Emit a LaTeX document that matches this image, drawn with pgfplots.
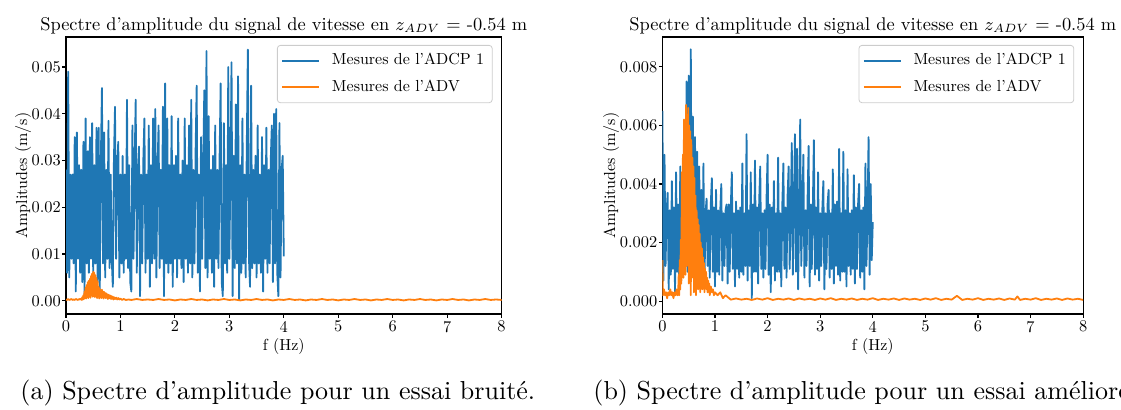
\documentclass[border=0pt]{standalone}
\usepackage{fontspec}
\setmainfont{lmroman10-regular.otf}[ItalicFont=lmroman10-italic.otf, BoldFont=lmroman10-bold.otf]
\usepackage{pgfplots}
\usepackage{pgfplotstable}
\pgfplotsset{compat=1.18}
\definecolor{tabblue}{RGB}{31,119,180}
\definecolor{taborange}{RGB}{255,127,14}

\pgfplotstableread{
x y
0.00 .028
0.02 .006
0.04 .049
0.06 .005
0.08 .027
0.10 .009
0.12 .027
0.14 .008
0.16 .035
0.18 .002
0.20 .036
0.22 .009
0.24 .029
0.26 .006
0.28 .028
0.30 .004
0.32 .034
0.34 .001
0.36 .039
0.38 .008
0.40 .032
0.42 .006
0.44 .035
0.46 .009
0.48 .038
0.50 .005
0.52 .029
0.54 .008
0.56 .037
0.58 .004
0.60 .037
0.62 .002
0.64 .030
0.66 .0455
0.68 .008
0.70 .036
0.72 .005
0.74 .028
0.76 .009
0.78 .0385
0.80 .007
0.82 .027
0.84 .009
0.86 .003
0.88 .030
0.90 .0415
0.92 .009
0.94 .029
0.96 .034
0.98 .005
1.00 .027
1.02 .008
1.04 .031
1.06 .006
1.08 .027
1.10 .009
1.12 .043
1.14 .007
1.16 .029
1.18 .004
1.20 .002
1.22 .0375
1.24 .009
1.26 .029
1.28 .043
1.30 .006
1.32 .028
1.34 .033
1.36 .001
1.38 .027
1.40 .008
1.42 .030
1.44 .039
1.46 .006
1.48 .027
1.50 .009
1.52 .0375
1.54 .003
1.56 .029
1.58 .008
1.60 .039
1.62 .009
1.64 .041
1.66 .005
1.68 .028
1.70 .0375
1.72 .007
1.74 .028
1.76 .009
1.78 .0415
1.80 .001
1.82 .0465
1.84 .008
1.86 .039
1.88 .006
1.90 .029
1.92 .008
1.94 .0395
1.96 .003
1.98 .029
2.00 .009
2.02 .031
2.04 .005
2.06 .039
2.08 .009
2.10 .027
2.12 .007
2.14 .030
2.16 .004
2.18 .039
2.20 .009
2.22 .029
2.24 .006
2.26 .0375
2.28 .008
2.30 .043
2.32 .005
2.34 .028
2.36 .008
2.38 .032
2.40 .046
2.42 .006
2.44 .027
2.46 .002
2.48 .035
2.50 .009
2.52 .029
2.54 .045
2.56 .007
2.58 .0534
2.60 .005
2.62 .0395
2.64 .009
2.66 .028
2.68 .006
2.70 .031
2.72 .003
2.74 .0375
2.76 .009
2.78 .028
2.80 .007
2.82 .030
2.84 .0465
2.86 .004
2.88 .001
2.90 .038
2.92 .008
2.94 .029
2.96 .006
2.98 .050
3.00 .009
3.02 .027
3.04 .051
3.06 .001
3.08 .031
3.10 .007
3.12 .042
3.14 .008
3.16 .048
3.18 .0002
3.20 .029
3.22 .006
3.24 .039
3.26 .008
3.28 .027
3.30 .005
3.32 .033
3.34 .0537
3.36 .009
3.38 .003
3.40 .046
3.42 .007
3.44 .028
3.46 .008
3.48 .031
3.50 .005
3.52 .0375
3.54 .008
3.56 .027
3.58 .006
3.60 .035
3.62 .002
3.64 .029
3.66 .009
3.68 .037
3.70 .006
3.72 .028
3.74 .008
3.76 .030
3.78 .0375
3.80 .004
3.82 .040
3.84 .008
3.86 .041
3.88 .006
3.90 .001
3.92 .038
3.94 .005
3.96 .028
3.98 .031
4.00 .0095
}\adcpA

\pgfplotstableread{
x y
0.00 .0003
0.02 .0002
0.04 .0004
0.06 .0002
0.08 .0003
0.10 .0004
0.12 .0002
0.14 .0003
0.16 .0002
0.18 .0004
0.20 .0003
0.22 .0002
0.24 .0004
0.26 .0003
0.28 .0005
0.29 .0002
0.30 .0008
0.31 .0003
0.32 .0012
0.33 .0004
0.34 .0020
0.35 .0006
0.36 .0028
0.37 .0005
0.38 .0034
0.39 .0008
0.40 .0040
0.41 .0006
0.42 .0043
0.43 .0010
0.44 .0047
0.45 .0007
0.46 .0053
0.47 .0012
0.48 .0058
0.49 .0009
0.50 .0062
0.51 .0014
0.52 .0060
0.53 .0008
0.54 .0055
0.55 .0011
0.56 .0049
0.57 .0006
0.58 .0042
0.59 .0009
0.60 .0030
0.61 .0005
0.62 .0026
0.63 .0008
0.64 .0022
0.65 .0006
0.66 .0024
0.67 .0009
0.68 .0020
0.69 .0005
0.70 .0019
0.71 .0008
0.72 .0017
0.73 .0006
0.74 .0016
0.75 .0007
0.76 .0014
0.77 .0004
0.78 .0013
0.79 .0006
0.80 .0012
0.81 .0005
0.82 .0011
0.83 .0004
0.84 .0010
0.85 .0005
0.86 .0009
0.87 .0003
0.88 .0008
0.90 .0004
0.92 .0007
0.94 .0003
0.96 .0006
0.98 .0003
1.00 .0005
1.03 .0002
1.06 .0004
1.10 .0002
1.15 .0003
1.2 .0002
1.3 .0004
1.4 .0002
1.5 .0003
1.6 .0002
1.7 .0004
1.8 .0002
1.9 .0003
2.0 .0001
2.1 .0003
2.2 .0002
2.3 .0004
2.4 .0002
2.5 .0003
2.6 .0001
2.7 .0003
2.8 .0002
2.9 .0004
3.0 .0002
3.1 .0003
3.2 .0001
3.3 .0003
3.4 .0002
3.5 .0004
3.6 .0002
3.7 .0003
3.8 .0001
3.9 .0003
4.0 .0002
4.1 .0004
4.2 .0002
4.3 .0003
4.4 .0001
4.5 .0003
4.6 .0002
4.7 .0004
4.8 .0002
4.9 .0003
5.0 .0001
5.1 .0003
5.2 .0002
5.3 .0004
5.4 .0002
5.5 .0003
5.6 .0001
5.7 .0003
5.8 .0002
5.9 .0004
6.0 .0002
6.1 .0003
6.2 .0001
6.3 .0003
6.4 .0002
6.5 .0004
6.6 .0002
6.7 .0003
6.8 .0001
6.9 .0003
7.0 .0002
7.1 .0004
7.2 .0002
7.3 .0003
7.4 .0001
7.5 .0003
7.6 .0002
7.7 .0004
7.8 .0002
7.9 .0003
8.0 .0002
}\advA

\pgfplotstableread{
x y
0.00 .0065
0.02 .0007
0.04 .0050
0.06 .0012
0.08 .0030
0.10 .0037
0.12 .0004
0.14 .0031
0.16 .0009
0.18 .0041
0.20 .0011
0.22 .0032
0.24 .0003
0.26 .0044
0.28 .0010
0.30 .0033
0.32 .0006
0.34 .0046
0.36 .0011
0.38 .0035
0.40 .0009
0.42 .0060
0.44 .0012
0.46 .0075
0.48 .0010
0.50 .0077
0.52 .0012
0.54 .0086
0.56 .0009
0.58 .0063
0.60 .0012
0.62 .0056
0.64 .0010
0.66 .0051
0.68 .0011
0.70 .0046
0.72 .0009
0.74 .0038
0.76 .0011
0.78 .0047
0.80 .0006
0.82 .0030
0.84 .0035
0.86 .0012
0.88 .0031
0.90 .0008
0.92 .0033
0.94 .0042
0.96 .0010
0.98 .0032
1.00 .0005
1.02 .0038
1.04 .0010
1.06 .0031
1.08 .0009
1.10 .0031
1.12 .0040
1.14 .0007
1.16 .0030
1.18 .0012
1.20 .0031
1.22 .0033
1.24 .0006
1.26 .0033
1.28 .0010
1.30 .0032
1.32 .0044
1.34 .0011
1.36 .0030
1.38 .0005
1.40 .0034
1.42 .0011
1.44 .0031
1.46 .0008
1.48 .0032
1.50 .0010
1.52 .0047
1.54 .0009
1.56 .0030
1.58 .0012
1.60 .0057
1.62 .0007
1.64 .0031
1.66 .0012
1.68 .0044
1.70 .0001
1.72 .0033
1.74 .0010
1.76 .0048
1.78 .0010
1.80 .0032
1.82 .0006
1.84 .0034
1.86 .0046
1.88 .0011
1.90 .0030
1.92 .0008
1.94 .0031
1.96 .0011
1.98 .0035
2.00 .0050
2.02 .0009
2.04 .0033
2.06 .0003
2.08 .0032
2.10 .0012
2.12 .0041
2.14 .0007
2.16 .0030
2.18 .0010
2.20 .0049
2.22 .0010
2.24 .0030
2.26 .0005
2.28 .0033
2.30 .0047
2.32 .0011
2.34 .0032
2.36 .0008
2.38 .0036
2.40 .0046
2.42 .0011
2.44 .0030
2.46 .0054
2.48 .0009
2.50 .0031
2.52 .0057
2.54 .0010
2.56 .0052
2.58 .0004
2.60 .0030
2.62 .0062
2.64 .0012
2.66 .0030
2.68 .0050
2.70 .0008
2.72 .0031
2.74 .0012
2.76 .0035
2.78 .0053
2.80 .0005
2.82 .0033
2.84 .0011
2.86 .0032
2.88 .0055
2.90 .0009
2.92 .0032
2.94 .0011
2.96 .0044
2.98 .0007
3.00 .0030
3.02 .0012
3.04 .0031
3.06 .0041
3.08 .0004
3.10 .0030
3.12 .0011
3.14 .0033
3.16 .0038
3.18 .0008
3.20 .0030
3.22 .0011
3.24 .0045
3.26 .0006
3.28 .0033
3.30 .0012
3.32 .0034
3.34 .0009
3.36 .0052
3.38 .0007
3.40 .0030
3.42 .0010
3.44 .0051
3.46 .0010
3.48 .0031
3.50 .0005
3.52 .0045
3.54 .0012
3.56 .0030
3.58 .0009
3.60 .0031
3.62 .0011
3.64 .0043
3.66 .0006
3.68 .0032
3.70 .0011
3.72 .0033
3.74 .0040
3.76 .0008
3.78 .0031
3.80 .0010
3.82 .0032
3.84 .0004
3.86 .0047
3.88 .0012
3.90 .0030
3.92 .0056
3.94 .0009
3.96 .0040
3.98 .0014
4.00 .0027
}\adcpB

\pgfplotstableread{
x y
0.00 .0014
0.01 .0002
0.03 .0004
0.05 .0002
0.07 .0003
0.09 .0001
0.11 .0003
0.13 .0002
0.15 .0004
0.17 .0002
0.19 .0003
0.21 .0001
0.23 .0003
0.25 .0002
0.27 .0004
0.29 .0002
0.30 .0003
0.31 .0009
0.32 .0002
0.33 .0014
0.34 .0004
0.35 .0021
0.36 .0006
0.37 .0044
0.38 .0010
0.39 .0050
0.40 .0008
0.41 .0062
0.42 .0015
0.43 .0058
0.44 .0009
0.45 .0067
0.46 .0012
0.47 .0063
0.48 .0020
0.49 .0066
0.50 .0006
0.51 .0060
0.52 .0011
0.53 .0058
0.54 .0002
0.55 .0055
0.56 .0014
0.57 .0049
0.58 .0008
0.59 .0046
0.60 .0003
0.61 .0042
0.62 .0010
0.63 .0036
0.64 .0002
0.65 .0031
0.66 .0007
0.67 .0028
0.68 .0004
0.69 .0026
0.70 .0009
0.71 .0023
0.72 .0003
0.73 .0020
0.74 .0006
0.75 .0018
0.76 .0004
0.77 .0015
0.78 .0007
0.79 .0013
0.80 .0003
0.81 .0011
0.82 .0005
0.83 .0010
0.84 .0004
0.85 .0008
0.86 .0003
0.87 .0007
0.88 .0004
0.89 .0006
0.90 .0002
0.92 .0005
0.94 .0003
0.96 .0004
0.98 .0002
1.00 .0003
1.05 .0002
1.10 .0003
1.15 .0001
1.20 .0002
1.3 .00005
1.4 .00009
1.5 .00005
1.6 .00008
1.7 .00004
1.8 .00009
1.9 .00005
2.0 .00010
2.1 .00004
2.2 .00008
2.3 .00005
2.4 .00009
2.5 .00004
2.6 .00009
2.7 .00005
2.8 .00008
2.9 .00004
3.0 .00009
3.1 .00005
3.2 .00010
3.3 .00004
3.4 .00008
3.5 .00005
3.6 .00009
3.7 .00004
3.8 .00008
3.9 .00005
4.0 .00010
4.1 .00004
4.2 .00008
4.3 .00005
4.4 .00009
4.5 .00004
4.6 .00009
4.7 .00005
4.8 .00008
4.9 .00004
5.0 .00009
5.1 .00005
5.2 .00010
5.3 .00004
5.4 .00008
5.5 .00005
5.6 .00018
5.7 .00004
5.8 .00008
5.9 .00005
6.0 .00010
6.1 .00004
6.2 .00008
6.3 .00005
6.4 .00009
6.5 .00004
6.6 .00009
6.7 .00005
6.75 .00016
6.8 .00004
6.9 .00008
7.0 .00005
7.1 .00010
7.2 .00004
7.3 .00008
7.4 .00005
7.5 .00009
7.6 .00004
7.7 .00009
7.8 .00005
7.9 .00008
8.0 .00004
}\advB

\pgfplotsset{
  myax/.style={
    scale only axis, anchor=south west,
    xmin=0, xmax=8, xtick={0,1,...,8},
    tick align=outside, xtick pos=bottom, ytick pos=left,
    major tick length=1.8pt,
    tick style={black, line width=0.6pt},
    axis line style={line width=0.6pt},
    /pgf/number format/assume math mode=true,
    ticklabel style={font=\fontsize{8.2}{9}\selectfont},
    yticklabel style={inner xsep=0.6pt},
    xticklabel style={inner ysep=1.5pt},
    label style={font=\fontsize{8}{9}\selectfont},
    title style={font=\fontsize{9.2}{11}\selectfont, yshift=-8pt},
    title={Spectre d'amplitude du signal de vitesse en $z_{ADV}$ = -0.54 m},
    xlabel={f (Hz)}, ylabel={Amplitudes (m/s)},
    xlabel style={inner ysep=1.5pt},
    ylabel style={inner ysep=1pt, yshift=-1.5pt},
    scaled y ticks=false,
    legend cell align=left,
    legend image code/.code={\draw[##1, line width=1pt] (0pt,0pt) -- (18.3pt,0pt);},
    legend style={at={(rel axis cs:1,1)}, anchor=north east, xshift=-4.5pt, yshift=-4pt,
      draw=black!20, rounded corners=1.5pt, font=\fontsize{8}{9}\selectfont,
      inner xsep=2pt, inner ysep=2pt, row sep=2.2pt,
      /tikz/every odd column/.append style={column sep=4pt}},
    every axis plot/.append style={line join=round, line width=0.9pt},
  }
}

\begin{document}
\begin{tikzpicture}
\useasboundingbox (0,0) rectangle (560.5pt,205pt);
\begin{axis}[myax, at={(33pt,48pt)}, width=217.8pt, height=138.5pt,
  ymin=-0.0028, ymax=0.0564, ytick={0,0.01,0.02,0.03,0.04,0.05},
  yticklabel style={/pgf/number format/fixed, /pgf/number format/fixed zerofill, /pgf/number format/precision=2}]
\addplot[tabblue] table {\adcpA};
\addlegendentry{Mesures de l'ADCP 1}
\addplot[taborange] table {\advA};
\addlegendentry{Mesures de l'ADV}
\end{axis}
\begin{axis}[myax, at={(331.2pt,48pt)}, width=210.4pt, height=138.5pt,
  ymin=-0.00044, ymax=0.00902, ytick={0,0.002,0.004,0.006,0.008},
  yticklabel style={/pgf/number format/fixed, /pgf/number format/fixed zerofill, /pgf/number format/precision=3}]
\addplot[tabblue] table {\adcpB};
\addlegendentry{Mesures de l'ADCP 1}
\addplot[taborange] table {\advB};
\addlegendentry{Mesures de l'ADV}
\end{axis}
\node[anchor=base west, inner sep=0pt, font=\fontsize{13}{15}\selectfont] at (10pt,5pt) {(a) Spectre d'amplitude pour un essai bruité.};
\node[anchor=base west, inner sep=0pt, font=\fontsize{13}{15}\selectfont] at (296.5pt,5pt) {(b) Spectre d'amplitude pour un essai amélioré.};
\end{tikzpicture}
\end{document}
